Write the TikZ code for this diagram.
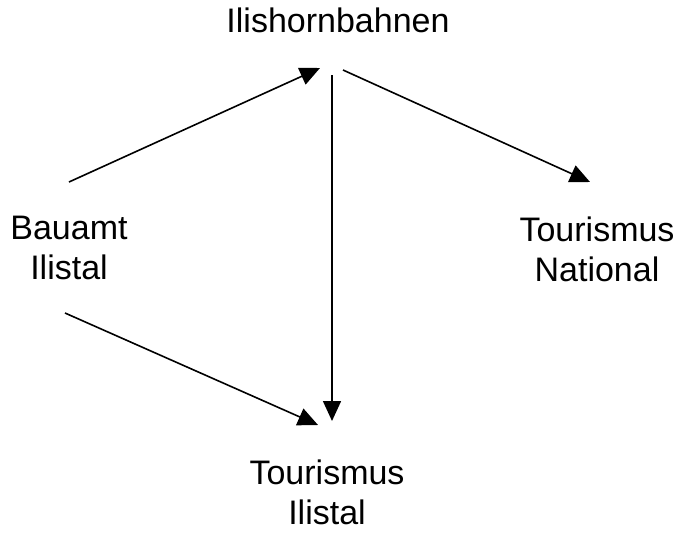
\documentclass[tikz,border=0pt]{standalone}
\usepackage{fontspec}
\setmainfont{Liberation Sans}
\usetikzlibrary{arrows.meta}
\begin{document}
\begin{tikzpicture}[x=1pt,y=-1pt,
  lbl/.style={inner sep=0pt, align=center, font=\fontsize{34}{40}\selectfont},
  conn/.style={line width=1.6pt, -{Triangle[length=20pt,width=18pt]}}]
\useasboundingbox (0,0) rectangle (685,533);
\node[lbl] (ilis) at (338,20) {Ilishornbahnen};
\node[lbl] (bau) at (69,248) {Bauamt\\Ilistal};
\node[lbl] (nat) at (597,249) {Tourismus\\National};
\node[lbl] (til) at (327,492) {Tourismus\\Ilistal};
\coordinate (bauN) at (69,182);
\coordinate (bauS) at (65,313);
\coordinate (ilisW) at (320,68);
\coordinate (ilisS) at (332,75);
\coordinate (ilisE) at (343,70);
\coordinate (natN) at (590,182);
\coordinate (tilN) at (332,421);
\coordinate (tilW) at (318,425);
\draw[conn] (bauN) -- (ilisW);
\draw[conn] (ilisE) -- (natN);
\draw[conn] (ilisS) -- (tilN);
\draw[conn] (bauS) -- (tilW);
\end{tikzpicture}
\end{document}
